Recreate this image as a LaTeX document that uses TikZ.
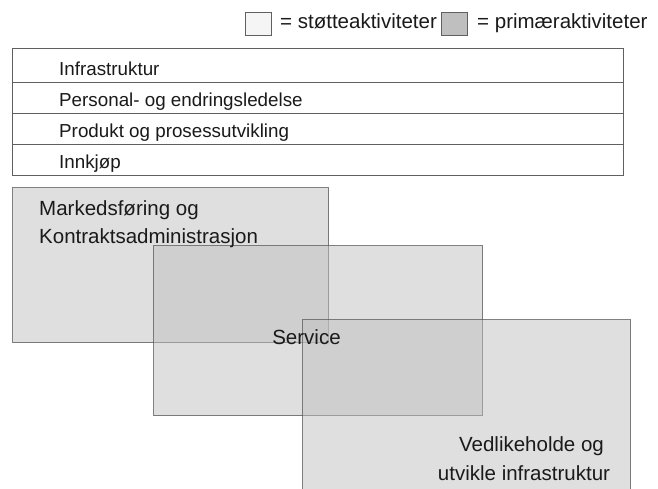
\documentclass[tikz,border=0pt]{standalone}
\usepackage{fontspec}
\setmainfont{Liberation Sans}
\definecolor{txt}{HTML}{1A1A1A}
\definecolor{bord}{HTML}{606060}
\definecolor{boxfill}{HTML}{BFBFBF}
\tikzset{
  bigbox/.style={draw=bord, draw opacity=0.8, line width=1.2pt, fill=boxfill, fill opacity=0.5, inner sep=0pt, anchor=north west},
  rowbox/.style={draw=bord, line width=1pt, fill=white, inner sep=0pt, anchor=north west, minimum width=611pt},
  rowtext/.style={text=txt, font=\fontsize{18.8}{22}\selectfont, anchor=base west, inner sep=0pt},
  bigtext/.style={text=txt, font=\fontsize{20.5}{28.5}\selectfont, inner sep=0pt},
  legbox/.style={draw=bord, line width=1pt, inner sep=0pt, minimum width=26pt, minimum height=23pt, anchor=north west}
}
\begin{document}
\begin{tikzpicture}[x=1pt,y=-1pt]
\useasboundingbox (0,0) rectangle (658,488);
% legend
\node[legbox, fill=white!96!black] (lw) at (245,12) {};
\node[bigtext, anchor=base west] (lwt) at (280,28.3) {= støtteaktiviteter};
\node[legbox, fill=boxfill] (lg) at (441,12) {};
\node[bigtext, anchor=base west] (lgt) at (477,28.3) {= primæraktiviteter};
% support rows
\node[rowbox, minimum height=33.4pt] (r1) at (12,48.3) {};
\node[rowbox, minimum height=31pt] (r2) at (12,81.7) {};
\node[rowbox, minimum height=31.3pt] (r3) at (12,112.7) {};
\node[rowbox, minimum height=31pt] (r4) at (12,144) {};
\node[rowtext] (t1) at (59,75.7) {Infrastruktur};
\node[rowtext] (t2) at (59,106.3) {Personal- og endringsledelse};
\node[rowtext] (t3) at (59,137) {Produkt og prosessutvikling};
\node[rowtext] (t4) at (59,168) {Innkjøp};
% primary activities
\node[bigbox, minimum width=316pt, minimum height=155pt] (A) at (12,187) {};
\node[bigbox, minimum width=329pt, minimum height=170pt] (B) at (153,245) {};
\node[bigbox, minimum width=328pt, minimum height=170pt] (C) at (302,319) {};
\node[bigtext, anchor=base west] (At1) at (39,215) {Markedsføring og};
\node[bigtext, anchor=base west] (At2) at (39,243.5) {Kontraktsadministrasjon};
\node[bigtext, anchor=base] (Bt) at (306.5,344) {Service};
\node[bigtext, anchor=base] (Ct1) at (531.5,451.7) {Vedlikeholde og};
\node[bigtext, anchor=base] (Ct2) at (524,480.2) {utvikle infrastruktur};
\end{tikzpicture}
\end{document}
